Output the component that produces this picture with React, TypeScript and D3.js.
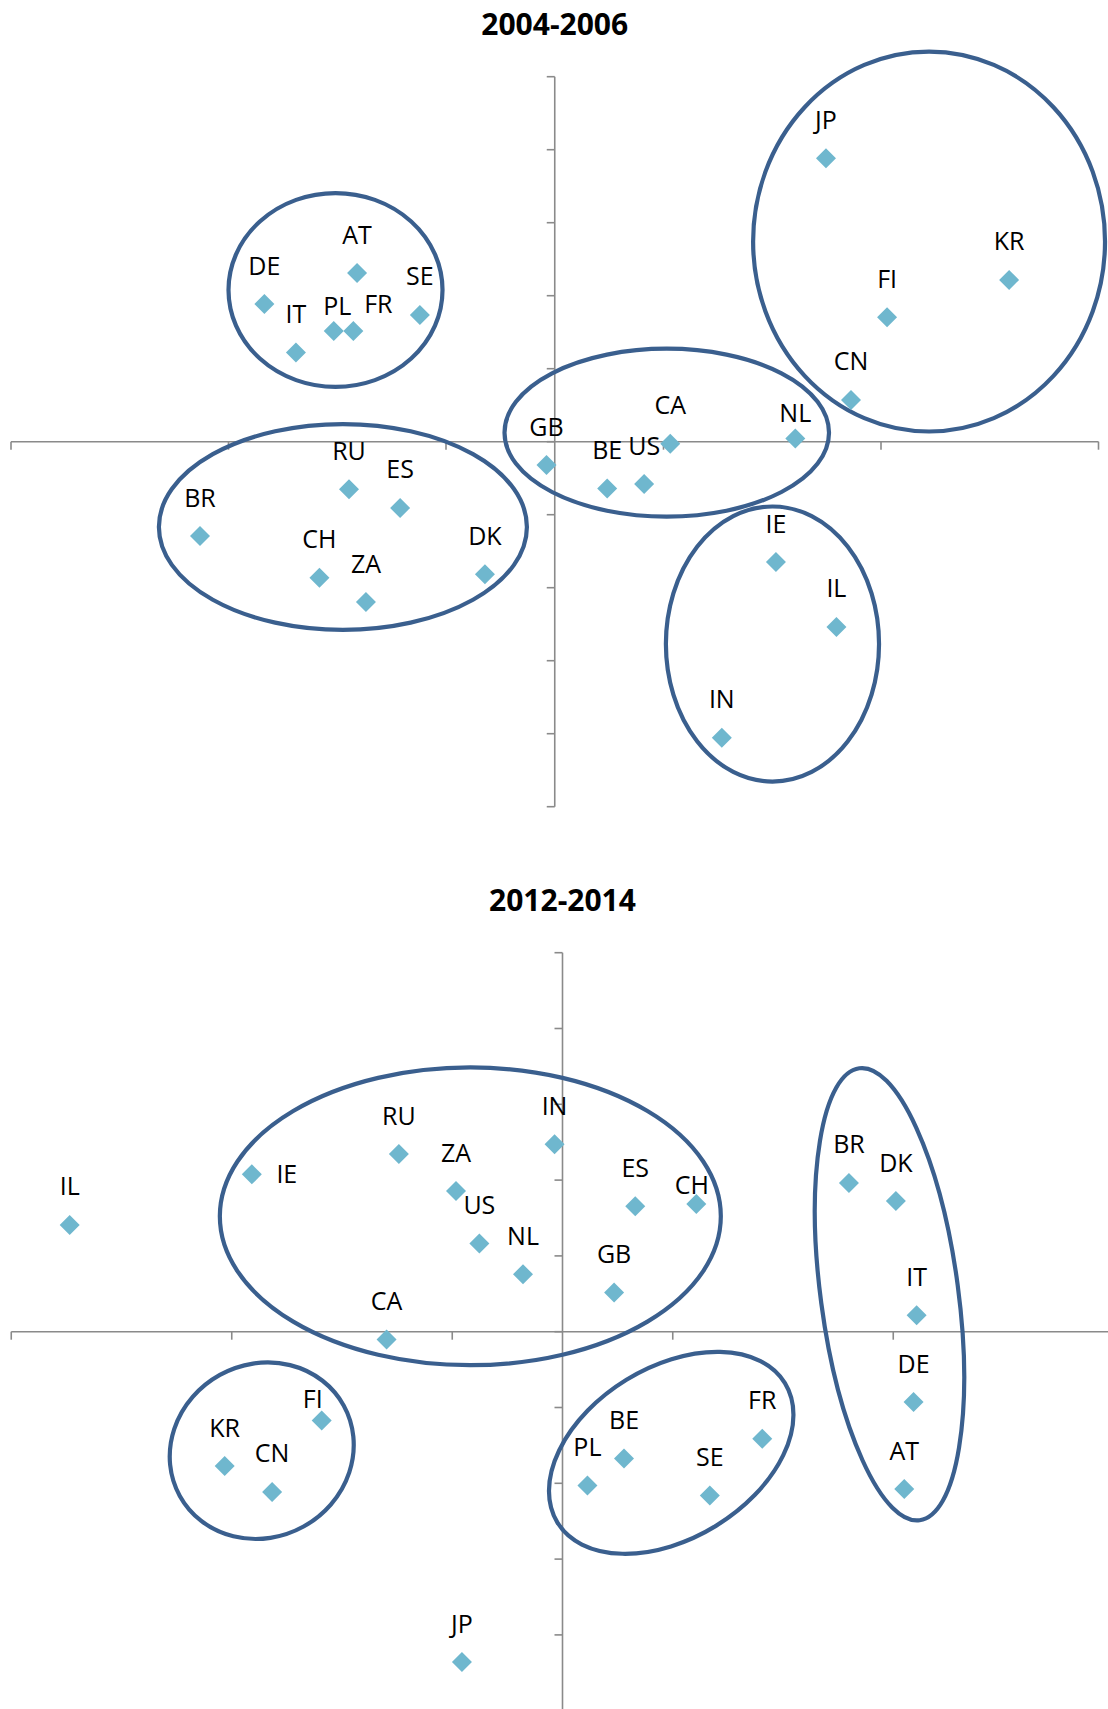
import React from "react";
import * as d3 from "d3";

// ---------- Chart 1: 2004-2006 ----------
const title1 = "2004-2006";
const countries1 = ["DE", "AT", "IT", "PL", "FR", "SE", "JP", "KR", "FI", "CN", "RU", "ES", "BR", "CH", "ZA", "DK", "GB", "BE", "US", "CA", "NL", "IE", "IL", "IN"];
const xValues1 = [-1.335, -0.909, -1.19, -1.016, -0.926, -0.62, 1.247, 2.089, 1.528, 1.362, -0.946, -0.711, -1.631, -1.082, -0.868, -0.321, -0.038, 0.241, 0.411, 0.531, 1.106, 1.017, 1.295, 0.768];
const yValues1 = [0.943, 1.155, 0.611, 0.758, 0.758, 0.868, 1.941, 1.108, 0.852, 0.286, -0.326, -0.454, -0.646, -0.931, -1.098, -0.908, -0.16, -0.321, -0.29, -0.014, 0.022, -0.824, -1.269, -2.027];
// cluster ellipses: centre and radii in data units, rotation in degrees
const clusters1 = [
  { cx: -1.008, cy: 1.039, rx: 0.492, ry: 0.664, rot: 0 },
  { cx: 1.721, cy: 1.371, rx: 0.809, ry: 1.301, rot: 0 },
  { cx: 0.515, cy: 0.062, rx: 0.746, ry: 0.575, rot: 0 },
  { cx: -0.974, cy: -0.584, rx: 0.846, ry: 0.705, rot: 0 },
  { cx: 1.001, cy: -1.386, rx: 0.49, ry: 0.942, rot: 0 },
];

// ---------- Chart 2: 2012-2014 ----------
const title2 = "2012-2014";
const countries2 = ["IL", "IE", "RU", "ZA", "US", "NL", "IN", "ES", "CH", "GB", "BR", "DK", "IT", "CA", "FI", "KR", "CN", "JP", "PL", "BE", "SE", "FR", "DE", "AT"];
const xValues2 = [-2.235, -1.409, -0.742, -0.483, -0.377, -0.179, -0.036, 0.33, 0.607, 0.234, 1.299, 1.512, 1.606, -0.798, -1.092, -1.532, -1.317, -0.456, 0.113, 0.279, 0.668, 0.906, 1.592, 1.55];
const yValues2 = [0.704, 1.038, 1.172, 0.928, 0.582, 0.379, 1.237, 0.827, 0.842, 0.259, 0.981, 0.862, 0.108, -0.051, -0.586, -0.886, -1.057, -2.179, -1.015, -0.836, -1.08, -0.706, -0.464, -1.038];
const clusters2 = [
  { cx: -0.418, cy: 0.761, rx: 1.136, ry: 0.982, rot: 0 },
  { cx: -1.364, cy: -0.785, rx: 0.4245, ry: 0.571, rot: -28.9 },
  { cx: 0.493, cy: -0.799, rx: 0.605, ry: 0.565, rot: -31.5 },
  { cx: 1.483, cy: 0.247, rx: 0.312, ry: 1.504, rot: -7.6 },
];

const xTicks = [-2.5, -1.5, -0.5, 0.5, 1.5, 2.5];
const yTicks = [-2.5, -2, -1.5, -1, -0.5, 0, 0.5, 1, 1.5, 2, 2.5];

// label placement (layout): [dx, baseline dy] relative to marker
const defaultNudge: [number, number] = [0, -29.5];
const nudges1: Record<string, [number, number]> = { PL: [3.5, -16], FR: [25, -18], NL: [0, -16] };
const nudges2: Record<string, [number, number]> = { IE: [35, 9], CH: [-4.5, -10.5], FI: [-9, -13] };

const W = 1108;
const H = 1709;
const AXIS = "#8a8a8a";
const MARK = "#6fb7ce";
const RING = "#3a5f8e";
const FONT = "'Open Sans', 'DejaVu Sans', sans-serif";

type PanelProps = {
  title: string;
  titleY: number;
  names: string[];
  xs: number[];
  ys: number[];
  clusters: { cx: number; cy: number; rx: number; ry: number; rot: number }[];
  xRange: [number, number];
  yRange: [number, number];
  nudges: Record<string, [number, number]>;
};

function Panel({ title, titleY, names, xs, ys, clusters, xRange, yRange, nudges }: PanelProps) {
  const x = d3.scaleLinear().domain([-2.5, 2.5]).range(xRange);
  const y = d3.scaleLinear().domain([-2.5, 2.5]).range(yRange);
  const x0 = x(0);
  const y0 = y(0);
  const xUnit = x(1) - x(0);
  const yUnit = y(0) - y(1);
  const diamond = d3.symbol().type(d3.symbolSquare).size(200)() as string;
  return (
    <g>
      <text x={x0} y={titleY} textAnchor="middle" fontFamily={FONT} fontWeight={700} fontSize={30} fill="#000">
        {title}
      </text>
      {/* axes */}
      <line x1={x(-2.5)} x2={x(2.5)} y1={y0} y2={y0} stroke={AXIS} strokeWidth={1.6} />
      <line x1={x0} x2={x0} y1={y(2.5)} y2={y(-2.5)} stroke={AXIS} strokeWidth={1.6} />
      {xTicks.map((t) => (
        <line key={"xt" + t} x1={x(t)} x2={x(t)} y1={y0} y2={y0 + 8} stroke={AXIS} strokeWidth={1.6} />
      ))}
      {yTicks.map((t) => (
        <line key={"yt" + t} x1={x0 - 8} x2={x0} y1={y(t)} y2={y(t)} stroke={AXIS} strokeWidth={1.6} />
      ))}
      {/* cluster rings */}
      {clusters.map((c, i) => (
        <ellipse
          key={"c" + i}
          cx={0}
          cy={0}
          rx={c.rx * xUnit}
          ry={c.ry * yUnit}
          transform={`translate(${x(c.cx)},${y(c.cy)}) rotate(${c.rot})`}
          fill="none"
          stroke={RING}
          strokeWidth={4.2}
        />
      ))}
      {/* markers */}
      {names.map((n, i) => (
        <path key={"m" + n} d={diamond} transform={`translate(${x(xs[i])},${y(ys[i])}) rotate(45)`} fill={MARK} />
      ))}
      {/* labels */}
      {names.map((n, i) => {
        const [dx, dy] = nudges[n] || defaultNudge;
        return (
          <text key={"l" + n} x={x(xs[i]) + dx} y={y(ys[i]) + dy} textAnchor="middle" fontFamily={FONT} fontSize={25} fill="#000">
            {n}
          </text>
        );
      })}
    </g>
  );
}

export default function App() {
  return (
    <svg
      width={W}
      height={H}
      viewBox={`0 0 ${W} ${H}`}
      style={{ position: "absolute", left: 0, top: 0, background: "#fff" }}
    >
      <rect x={0} y={0} width={W} height={H} fill="#fff" />
      <Panel
        title={title1}
        titleY={35}
        names={countries1}
        xs={xValues1}
        ys={yValues1}
        clusters={clusters1}
        xRange={[11, 1098.5]}
        yRange={[806.7, 76.7]}
        nudges={nudges1}
      />
      <Panel
        title={title2}
        titleY={911}
        names={countries2}
        xs={xValues2}
        ys={yValues2}
        clusters={clusters2}
        xRange={[11.25, 1113.75]}
        yRange={[1710.7, 952.7]}
        nudges={nudges2}
      />
    </svg>
  );
}
